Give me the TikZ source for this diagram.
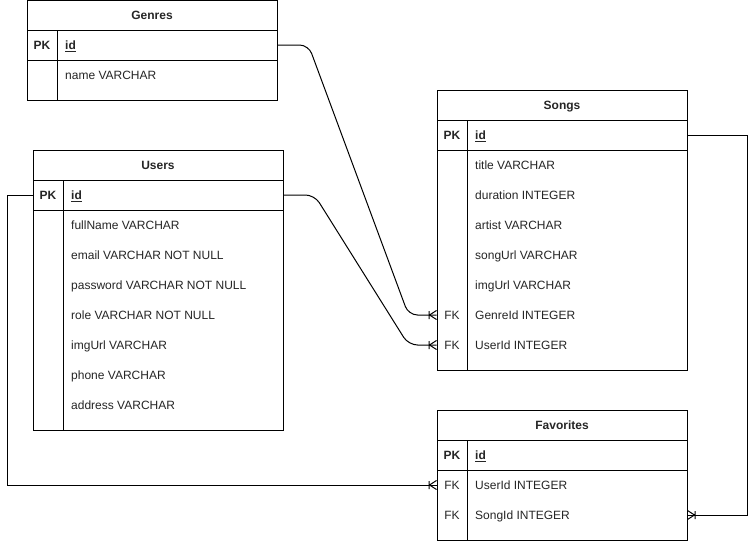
\documentclass[tikz,border=0pt]{standalone}
\usepackage{fontspec}
\setmainfont{Liberation Sans}
\usetikzlibrary{calc}
\begin{document}
\begin{tikzpicture}[x=1pt,y=-1pt,
  every node/.style={font=\fontsize{12pt}{14pt}\selectfont, text=black!85},
  tline/.style={draw=black, line width=1pt},
  hdr/.style={tline, minimum width=250pt, minimum height=30pt, inner sep=0pt, text height=9pt, text depth=0.5pt, font=\fontsize{12pt}{14pt}\selectfont\bfseries},
  rowbox/.style={tline, minimum width=250pt, minimum height=30pt, inner sep=0pt},
  keytxt/.style={inner sep=0pt, anchor=center, text height=9pt, text depth=0.5pt},
  fld/.style={inner sep=0pt, anchor=west, text height=9pt, text depth=0.5pt},
  rel/.style={draw=black, line width=1pt, rounded corners=9pt},
  crowfoot/.pic={\draw[line width=1pt] (-7.5,-4) -- (-7.5,4) (-7,0) -- (0,-4.5) (-7,0) -- (0,4.5);}
]
\useasboundingbox (0,0) rectangle (756,541);
\fill[white] (0,0) rectangle (756,541);

% ---------- Genres ----------
\node[hdr] (genres) at (152,15) {Genres};
\node[rowbox] (genres-idrow) at (152,45) {};
\draw[tline] (27,60) rectangle (277,100);
\draw[tline] (57,30) -- (57,100);
\node[keytxt] (genres-pk) at (42,45) {\bfseries PK};
\node[fld] (genres-id) at (65,45) {\bfseries\underline{id}};
\node[fld] (genres-name) at (65,75) {name VARCHAR};

% ---------- Users ----------
\node[hdr] (users) at (158,165) {Users};
\node[rowbox] (users-idrow) at (158,195) {};
\draw[tline] (33,210) rectangle (283,430);
\draw[tline] (63,180) -- (63,430);
\node[keytxt] (users-pk) at (48,195) {\bfseries PK};
\node[fld] (users-id) at (71,195) {\bfseries\underline{id}};
\node[fld] (users-f1) at (71,225) {fullName VARCHAR};
\node[fld] (users-f2) at (71,255) {email VARCHAR NOT NULL};
\node[fld] (users-f3) at (71,285) {password VARCHAR NOT NULL};
\node[fld] (users-f4) at (71,315) {role VARCHAR NOT NULL};
\node[fld] (users-f5) at (71,345) {imgUrl VARCHAR};
\node[fld] (users-f6) at (71,375) {phone VARCHAR};
\node[fld] (users-f7) at (71,405) {address VARCHAR};

% ---------- Songs ----------
\node[hdr] (songs) at (562,105) {Songs};
\node[rowbox] (songs-idrow) at (562,135) {};
\draw[tline] (437,150) rectangle (687,370);
\draw[tline] (467,120) -- (467,370);
\node[keytxt] (songs-pk) at (452,135) {\bfseries PK};
\node[fld] (songs-id) at (475,135) {\bfseries\underline{id}};
\node[fld] (songs-f1) at (475,165) {title VARCHAR};
\node[fld] (songs-f2) at (475,195) {duration INTEGER};
\node[fld] (songs-f3) at (475,225) {artist VARCHAR};
\node[fld] (songs-f4) at (475,255) {songUrl VARCHAR};
\node[fld] (songs-f5) at (475,285) {imgUrl VARCHAR};
\node[fld] (songs-f6) at (475,315) {GenreId INTEGER};
\node[fld] (songs-f7) at (475,345) {UserId INTEGER};
\node[keytxt] (songs-fk1) at (452,315) {FK};
\node[keytxt] (songs-fk2) at (452,345) {FK};
\node[rowbox, draw=none] (songs-genrerow) at (562,315) {};
\node[rowbox, draw=none] (songs-userrow) at (562,345) {};

% ---------- Favorites ----------
\node[hdr] (favs) at (562,425) {Favorites};
\node[rowbox] (favs-idrow) at (562,455) {};
\draw[tline] (437,470) rectangle (687,540);
\draw[tline] (467,440) -- (467,540);
\node[keytxt] (favs-pk) at (452,455) {\bfseries PK};
\node[fld] (favs-id) at (475,455) {\bfseries\underline{id}};
\node[keytxt] (favs-fk1) at (452,485) {FK};
\node[keytxt] (favs-fk2) at (452,515) {FK};
\node[fld] (favs-f1) at (475,485) {UserId INTEGER};
\node[fld] (favs-f2) at (475,515) {SongId INTEGER};
\node[rowbox, draw=none] (favs-userrow) at (562,485) {};
\node[rowbox, draw=none] (favs-songrow) at (562,515) {};

% ---------- Relations ----------
\draw[rel] (genres-idrow.east) -- ++(31,0) -- ($(songs-genrerow.west)+(-28,0)$) -- (songs-genrerow.west);
\pic at (songs-genrerow.west) {crowfoot};
\draw[rel] (users-idrow.east) -- ++(31,0) -- ($(songs-userrow.west)+(-28,0)$) -- (songs-userrow.west);
\pic at (songs-userrow.west) {crowfoot};
\draw[line width=1pt] (users-idrow.west) -- ++(-25,0) |- (favs-userrow.west);
\pic at (favs-userrow.west) {crowfoot};
\draw[line width=1pt] (songs-idrow.east) -- ++(60,0) |- (favs-songrow.east);
\pic[xscale=-1] at (favs-songrow.east) {crowfoot};
\end{tikzpicture}
\end{document}
